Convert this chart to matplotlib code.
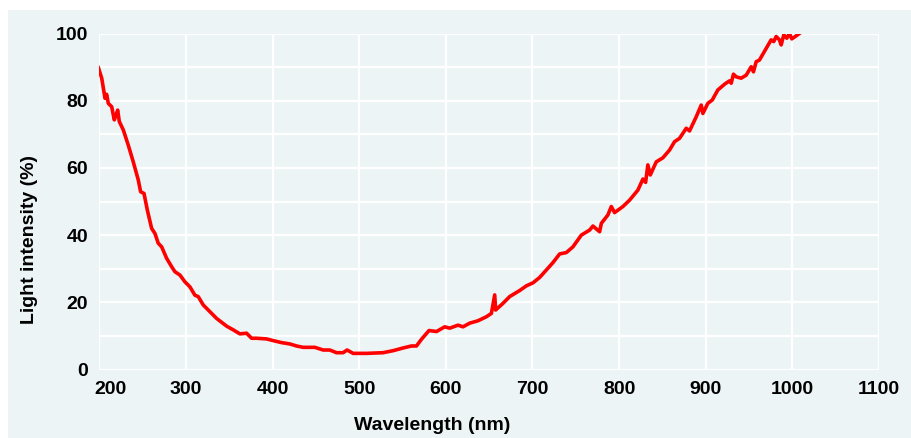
import matplotlib.pyplot as plt
import matplotlib.transforms as mtransforms
from matplotlib.patches import Rectangle

# Spectrum
wavelength = [199, 202.8, 206.6, 208.5, 210.4, 214.3, 217.3, 219.3, 221.2, 223.1,
              227.7, 233.4, 239.2, 245, 247.7, 251.6, 255.4, 260.4, 264.2, 268,
              272, 277.7, 283.5, 287.3, 293.1, 298.8, 304.6, 310.4, 314.2, 320,
              327.7, 335.4, 343, 347, 354.6, 362.3, 370, 375.8, 381.5, 393.1,
              400.7, 410.4, 420, 427.7, 435.3, 448.8, 458.4, 466.1, 473.8, 481.4,
              486, 493, 508.4, 527.6, 539.1, 550.6, 560.3, 566.1, 571.9, 580.6,
              589.2, 598.7, 604.5, 614.1, 619.8, 627.6, 637.1, 646.8, 652.6, 656.4,
              657.5, 666, 673.7, 685.2, 693, 700.6, 708.3, 716, 723.6, 731.4,
              739.1, 746.7, 756.4, 766, 769.8, 777.5, 779.5, 787.1, 791, 794.8,
              804.4, 812.1, 821.7, 827.5, 830.6, 833.2, 836, 842.9, 850.5, 858.2,
              864, 869.8, 877.5, 881.3, 889, 894.8, 896.7, 902.4, 907.5, 914,
              921.7, 927.4, 929.4, 932, 935.2, 940.9, 946.7, 952.5, 955.1, 958.2,
              962, 969.8, 975.5, 978.5, 981.3, 985.1, 987.1, 990.1, 993.6, 996.7,
              999.3, 1004.4, 1010.2]
intensity = [89.8, 86.7, 80.7, 81.9, 79.2, 78.2, 74.3, 75.7, 77.2, 73.8,
             71.3, 66.8, 61.8, 56.4, 52.9, 52.4, 47.5, 42.0, 40.5, 37.6,
             36.5, 33.1, 30.6, 29.1, 28.1, 26.1, 24.6, 22.1, 21.7, 19.2,
             17.2, 15.2, 13.7, 12.9, 11.8, 10.6, 10.8, 9.3, 9.3, 9.1,
             8.6, 8.0, 7.6, 7.0, 6.6, 6.6, 5.8, 5.8, 5.0, 5.0,
             5.8, 4.8, 4.8, 5.0, 5.6, 6.4, 7.0, 7.0, 9.0, 11.6,
             11.3, 12.7, 12.3, 13.2, 12.7, 13.8, 14.5, 15.7, 16.7, 22.2,
             17.7, 19.7, 21.7, 23.5, 24.9, 25.8, 27.4, 29.6, 31.8, 34.4,
             34.8, 36.5, 40.0, 41.5, 42.7, 41.0, 43.5, 46.0, 48.5, 46.7,
             48.5, 50.4, 53.4, 56.7, 55.7, 60.9, 57.9, 61.8, 63.0, 65.3,
             67.8, 68.8, 71.8, 71.0, 75.2, 78.7, 76.2, 79.2, 80.2, 83.2,
             84.9, 85.9, 85.2, 87.9, 87.1, 86.7, 87.6, 90.1, 88.6, 91.6,
             92.1, 95.6, 98.1, 97.6, 99.1, 98.1, 96.6, 99.6, 98.6, 100.0,
             98.4, 99.3, 100.4]

x_ticks = [200, 300, 400, 500, 600, 700, 800, 900, 1000, 1100]
y_ticks = [0, 20, 40, 60, 80, 100]

bg = '#edf4f6'
plt.rcParams['font.family'] = ['Liberation Sans', 'DejaVu Sans']

fig = plt.figure(figsize=(9.12, 4.38), dpi=100, facecolor='white')
# light panel behind the whole chart (white strip at top and left)
fig.add_artist(Rectangle((8 / 912, 0), 1, 428 / 438, transform=fig.transFigure,
                         facecolor=bg, edgecolor='none', zorder=-10))

ax = fig.add_axes([99.3 / 912, 68.5 / 438, 779.7 / 912, 336 / 438])
ax.set_zorder(1)
ax.set_facecolor(bg)
ax.plot(wavelength, intensity, color='#ff0000', linewidth=2.6, solid_joinstyle='round', zorder=3)

ax.set_xlim(200, 1100)
ax.set_ylim(0, 100)
ax.set_xticks(x_ticks)
ax.set_yticks(y_ticks)
ax.set_yticks(range(10, 100, 20), minor=True)
ax.grid(True, which='both', color='white', linewidth=1.6)
ax.set_axisbelow(True)
for s in ax.spines.values():
    s.set_visible(False)
ax.tick_params(which='both', length=0, labelsize=14, pad=8)
for lab in ax.get_xticklabels() + ax.get_yticklabels():
    lab.set_fontweight('bold')

# first x label sits a little to the right in the original
first = ax.get_xticklabels()[0]
first.set_transform(first.get_transform() + mtransforms.ScaledTranslation(11 / 100, 0, fig.dpi_scale_trans))

ax.set_xlabel('Wavelength (nm)', fontsize=14, fontweight='bold')
ax.set_ylabel('Light intensity (%)', fontsize=14, fontweight='bold')
ax.xaxis.set_label_coords(0.4267, -0.14)
ax.yaxis.set_label_coords(-0.078, 0.388)

plt.savefig('out.png', dpi=100, facecolor=fig.get_facecolor())
